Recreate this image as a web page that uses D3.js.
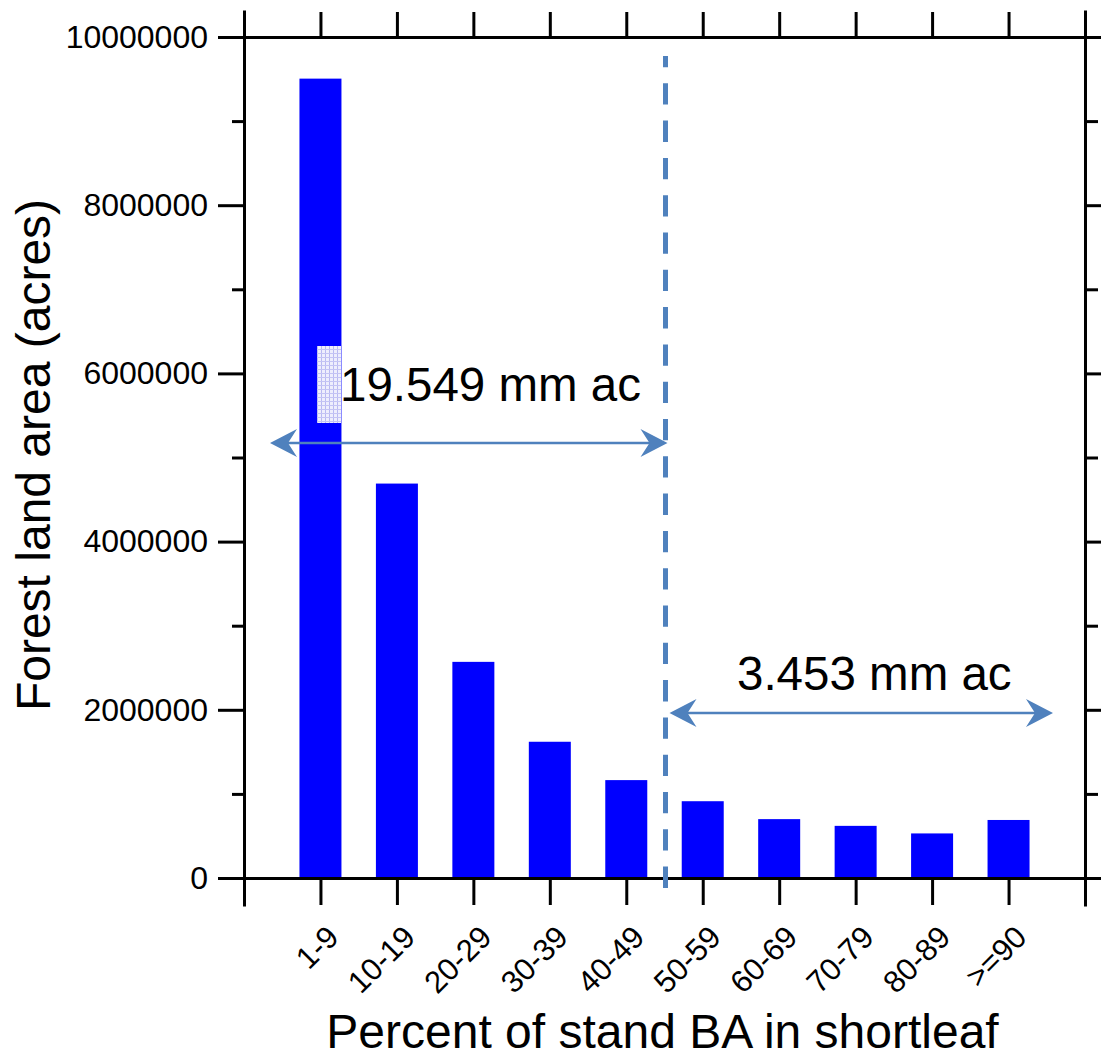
<!DOCTYPE html>
<html>
<head>
<meta charset="utf-8">
<script src="https://cdn.jsdelivr.net/npm/d3@7"></script>
<style>
  html, body { margin: 0; padding: 0; background: #fff; }
  svg { display: block; }
  text { font-family: "Liberation Sans", Arial, sans-serif; fill: #000; }
</style>
</head>
<body>
<svg id="chart" width="1101" height="1059"></svg>
<script>
// Forest land area by share of stand basal area in shortleaf pine
const categories = ["1-9", "10-19", "20-29", "30-39", "40-49", "50-59", "60-69", "70-79", "80-89", ">=90"];
const acres = [9505000, 4690000, 2570000, 1620000, 1164000, 913000, 700000, 620000, 530000, 690000];
const majorTicks = [0, 2000000, 4000000, 6000000, 8000000, 10000000];
const minorTicks = [1000000, 3000000, 5000000, 7000000, 9000000];
const splitIndex = 5; // classes below 50% vs. 50% and above

const svg = d3.select("#chart");
const plotLeft = 244, plotRight = 1085, plotTop = 37, plotBottom = 878;
const blue = "#4f81bd";

const x = d3.scalePoint().domain(categories).range([plotLeft, plotRight]).padding(1);
const y = d3.scaleLinear().domain([0, 10000000]).range([plotBottom, plotTop]);

// dotted fill used for the small box beside the first bar
const defs = svg.append("defs");
const pat = defs.append("pattern").attr("id", "dots")
  .attr("width", 4).attr("height", 4).attr("patternUnits", "userSpaceOnUse");
pat.append("rect").attr("width", 4).attr("height", 4).attr("fill", "#eeeefd");
pat.append("rect").attr("x", 1).attr("y", 0).attr("width", 1).attr("height", 4).attr("fill", "#b9b9f2");
pat.append("rect").attr("x", 0).attr("y", 1).attr("width", 4).attr("height", 1).attr("fill", "#c4c4f4");

// bars
const barW = 42;
svg.append("g").selectAll("rect").data(acres).join("rect")
  .attr("x", (d, i) => x(categories[i]) - barW / 2)
  .attr("y", d => y(d))
  .attr("width", barW)
  .attr("height", d => y(0) - y(d))
  .attr("fill", "#0000ff");

svg.append("rect")
  .attr("x", 317).attr("y", 346).attr("width", 24).attr("height", 77)
  .attr("fill", "url(#dots)");

// axes: left with labels, right/top/bottom as plain frames with ticks
const axStyle = g => {
  g.selectAll("path, line").attr("stroke", "#000").attr("stroke-width", 3);
  g.select(".domain").attr("stroke-linecap", "square");
};

svg.append("g").attr("transform", `translate(${plotLeft},0)`)
  .call(d3.axisLeft(y).tickValues(majorTicks).tickSize(26).tickSizeOuter(0)
    .tickPadding(10).tickFormat(d3.format("d")))
  .call(axStyle)
  .call(g => g.selectAll("text").attr("font-size", 32).attr("fill", "#000")
    .attr("font-family", '"Liberation Sans", Arial, sans-serif'));
svg.append("g").attr("transform", `translate(${plotLeft},0)`)
  .call(d3.axisLeft(y).tickValues(minorTicks).tickSize(12).tickSizeOuter(0).tickFormat(""))
  .call(axStyle);

svg.append("g").attr("transform", `translate(${plotRight},0)`)
  .call(d3.axisRight(y).tickValues(majorTicks).tickSize(26).tickSizeOuter(0).tickFormat(""))
  .call(axStyle);
svg.append("g").attr("transform", `translate(${plotRight},0)`)
  .call(d3.axisRight(y).tickValues(minorTicks).tickSize(13).tickSizeOuter(0).tickFormat(""))
  .call(axStyle);

svg.append("g").attr("transform", `translate(0,${plotTop})`)
  .call(d3.axisTop(x).tickSize(25).tickSizeOuter(25).tickFormat(""))
  .call(axStyle);
svg.append("g").attr("transform", `translate(0,${plotBottom})`)
  .call(d3.axisBottom(x).tickSize(27).tickSizeOuter(27).tickFormat(""))
  .call(axStyle);

// rotated category labels
svg.append("g").selectAll("text").data(categories).join("text")
  .attr("transform", d => `translate(${x(d) + 20},${plotBottom + 61}) rotate(-45)`)
  .attr("text-anchor", "end")
  .attr("font-size", 31)
  .text(d => d);

// axis titles
svg.append("text")
  .attr("x", (plotLeft + plotRight) / 2 - 2).attr("y", 1048)
  .attr("text-anchor", "middle").attr("font-size", 48)
  .text("Percent of stand BA in shortleaf");
svg.append("text")
  .attr("transform", "translate(50,455) rotate(-90)")
  .attr("text-anchor", "middle").attr("font-size", 48)
  .text("Forest land area (acres)");

// divider between the two groups of classes
const splitX = (x(categories[splitIndex - 1]) + x(categories[splitIndex])) / 2 + 1;
svg.append("line")
  .attr("x1", splitX).attr("x2", splitX).attr("y1", 56).attr("y2", 888)
  .attr("stroke", blue).attr("stroke-width", 5)
  .attr("stroke-dasharray", "21.3,16").attr("stroke-dashoffset", 10);

// double-headed arrows with the total area of each group
function arrowHead(xTip, yTip, dir) {
  const p = d3.path();
  p.moveTo(xTip, yTip);
  p.lineTo(xTip - dir * 27, yTip - 14);
  p.lineTo(xTip - dir * 18, yTip);
  p.lineTo(xTip - dir * 27, yTip + 14);
  p.closePath();
  svg.append("path").attr("d", p.toString()).attr("fill", blue);
}
function doubleArrow(x1, x2, yy) {
  svg.append("line").attr("x1", x1 + 10).attr("x2", x2 - 10)
    .attr("y1", yy).attr("y2", yy).attr("stroke", blue).attr("stroke-width", 2.5);
  arrowHead(x1, yy, -1);
  arrowHead(x2, yy, 1);
}

const fmt = d3.format(".3f");
const lowTotal = d3.sum(acres.slice(0, splitIndex)) / 1e6;
const highTotal = d3.sum(acres.slice(splitIndex)) / 1e6;

doubleArrow(270, splitX + 2, 443);
svg.append("text").attr("x", 340).attr("y", 401).attr("font-size", 47.5)
  .text(`${fmt(lowTotal)} mm ac`);

doubleArrow(splitX + 4, 1053, 713);
svg.append("text").attr("x", 737).attr("y", 690).attr("font-size", 47.5)
  .text(`${fmt(highTotal)} mm ac`);
</script>
</body>
</html>
